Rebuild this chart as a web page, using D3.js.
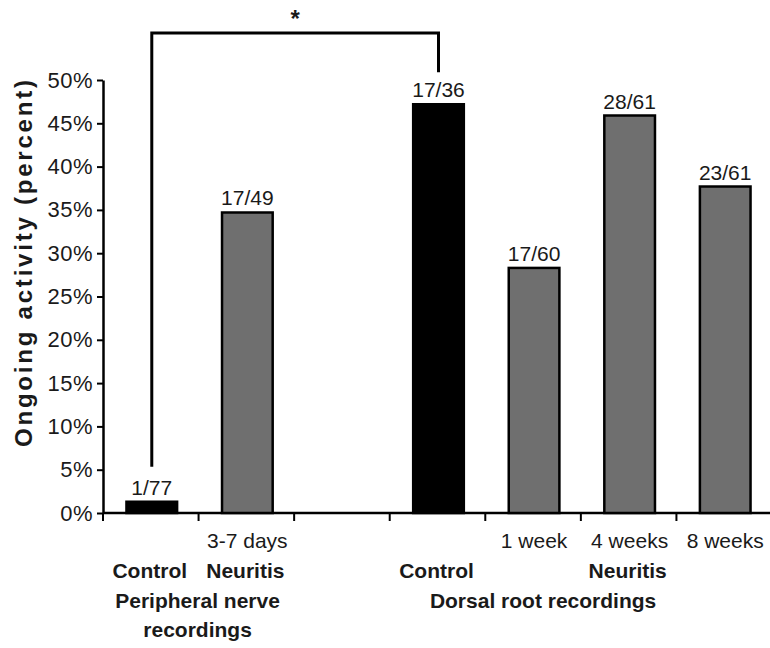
<!DOCTYPE html>
<html>
<head>
<meta charset="utf-8">
<script src="https://cdn.jsdelivr.net/npm/d3@7"></script>
<style>
  body { margin: 0; background: #fff; }
  text { font-family: "Liberation Sans", Arial, sans-serif; fill: #1a1a1a; }
</style>
</head>
<body>
<div id="chart"></div>
<script>
// slots along the x axis (one empty slot between the two groups)
var slots = ["pnControl", "pnNeuritis", "gap", "drControl", "dr1w", "dr4w", "dr8w"];

// bars
var barSlots = ["pnControl", "pnNeuritis", "drControl", "dr1w", "dr4w", "dr8w"];
var percents = [1.3, 34.7, 47.2, 28.3, 45.9, 37.7];
var counts = ["1/77", "17/49", "17/36", "17/60", "28/61", "23/61"];
var isControl = [true, false, true, false, false, false];

// labels under the axis
var timeLabels = ["", "3-7 days", "", "1 week", "4 weeks", "8 weeks"];
var typeLabels = ["Control", "Neuritis", "Control", "", "Neuritis", ""];

var yTicks = [0, 5, 10, 15, 20, 25, 30, 35, 40, 45, 50];

var svgWidth = 770, svgHeight = 648;
var x0 = 103, xEnd = 772, yBase = 513, yTop = 80;

var svg = d3.select("#chart").append("svg")
    .attr("width", svgWidth)
    .attr("height", svgHeight);

var x = d3.scaleBand().domain(slots).range([x0, xEnd]).padding(0);
var y = d3.scaleLinear().domain([0, 50]).range([yBase, yTop]);
var bw = x.bandwidth(), barW = bw * 0.53;

function center(s) { return x(s) + bw / 2 + 1; }

// y axis
var yAxis = svg.append("g")
    .attr("transform", "translate(" + x0 + ",0)")
    .call(d3.axisLeft(y).tickValues(yTicks).tickFormat(function (d) { return d + "%"; })
        .tickSize(6).tickSizeOuter(0).tickPadding(4));
yAxis.select(".domain").attr("stroke", "#000").attr("stroke-width", 2.5);
yAxis.selectAll(".tick line").attr("stroke", "#000").attr("stroke-width", 2);
yAxis.selectAll(".tick text")
    .style("font-size", "22px")
    .style("letter-spacing", "0.5px")
    .attr("fill", "#222");

// y title
svg.append("text")
    .attr("transform", "translate(32," + ((80 + 447) / 2) + ") rotate(-90)")
    .attr("text-anchor", "middle")
    .attr("textLength", 367)
    .attr("lengthAdjust", "spacing")
    .style("font-size", "24px")
    .style("font-weight", "bold")
    .text("Ongoing activity  (percent)");

// x axis line and ticks at slot boundaries
svg.append("line")
    .attr("x1", x0).attr("x2", svgWidth)
    .attr("y1", yBase).attr("y2", yBase)
    .attr("stroke", "#000").attr("stroke-width", 2.5);
svg.selectAll(".xtick")
    .data(slots)
    .enter().append("line")
    .attr("class", "xtick")
    .attr("x1", function (d) { return x(d); })
    .attr("x2", function (d) { return x(d); })
    .attr("y1", yBase).attr("y2", yBase + 8)
    .attr("stroke", "#000").attr("stroke-width", 2);

// bars
svg.selectAll(".bar")
    .data(percents)
    .enter().append("rect")
    .attr("class", "bar")
    .attr("x", function (d, i) { return center(barSlots[i]) - barW / 2; })
    .attr("y", function (d) { return y(d); })
    .attr("width", barW)
    .attr("height", function (d) { return yBase - y(d); })
    .attr("fill", function (d, i) { return isControl[i] ? "#000" : "#6f6f6f"; })
    .attr("stroke", "#000")
    .attr("stroke-width", 2.5);

// count labels
svg.selectAll(".count")
    .data(percents)
    .enter().append("text")
    .attr("class", "count")
    .attr("x", function (d, i) { return center(barSlots[i]); })
    .attr("y", function (d) { return y(d) - 7; })
    .attr("text-anchor", "middle")
    .style("font-size", "21px")
    .text(function (d, i) { return counts[i]; });

// labels under axis
svg.selectAll(".timeLab")
    .data(timeLabels)
    .enter().append("text")
    .attr("x", function (d, i) { return center(barSlots[i]); })
    .attr("y", 548)
    .attr("text-anchor", "middle")
    .style("font-size", "21px")
    .text(function (d) { return d; });

svg.selectAll(".typeLab")
    .data(typeLabels)
    .enter().append("text")
    .attr("x", function (d, i) { return center(barSlots[i]) - 2; })
    .attr("y", 578)
    .attr("text-anchor", "middle")
    .style("font-size", "21px")
    .style("font-weight", "bold")
    .text(function (d) { return d; });

var pnMid = (center("pnControl") + center("pnNeuritis")) / 2 - 2;
svg.append("text")
    .attr("x", pnMid).attr("y", 608)
    .attr("text-anchor", "middle")
    .style("font-size", "21px").style("font-weight", "bold")
    .text("Peripheral nerve");
svg.append("text")
    .attr("x", pnMid).attr("y", 637)
    .attr("text-anchor", "middle")
    .style("font-size", "21px").style("font-weight", "bold")
    .text("recordings");
svg.append("text")
    .attr("x", center("dr1w") + 9).attr("y", 608)
    .attr("text-anchor", "middle")
    .style("font-size", "21px").style("font-weight", "bold")
    .text("Dorsal root recordings");

// significance bracket between the two controls
var bx1 = center("pnControl"), bx2 = center("drControl"), bTop = 33;
svg.append("path")
    .attr("d", "M" + bx1 + "," + (y(percents[0]) - 35) +
        "V" + bTop + "H" + bx2 + "V" + (y(percents[2]) - 32))
    .attr("fill", "none")
    .attr("stroke", "#000")
    .attr("stroke-width", 3);
svg.append("text")
    .attr("x", (bx1 + bx2) / 2)
    .attr("y", 27)
    .attr("text-anchor", "middle")
    .style("font-size", "24px")
    .style("font-weight", "bold")
    .text("*");
</script>
</body>
</html>
